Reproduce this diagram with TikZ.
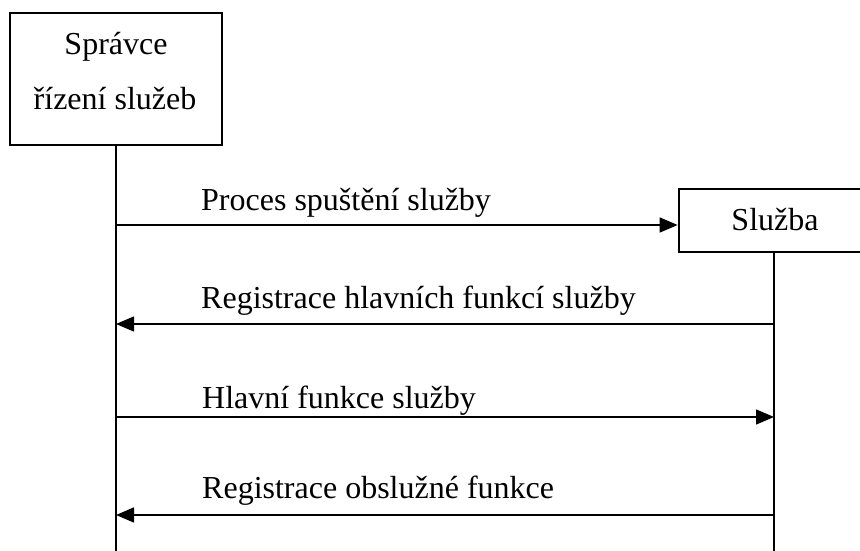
\documentclass[tikz,border=0pt]{standalone}
\usepackage{fontspec}
\setmainfont{Liberation Serif}
\usetikzlibrary{arrows.meta}
\begin{document}
\begin{tikzpicture}[x=1pt,y=-1pt,
  actor/.style={draw,line width=2.6pt,rectangle,inner sep=0pt,align=center,
    font=\fontsize{32}{55}\selectfont},
  txt/.style={inner sep=0pt,anchor=base,font=\fontsize{32}{38}\selectfont},
  life/.style={line width=1.4pt},
  msg/.style={line width=1.4pt,-{Triangle[length=18pt,width=15pt]}},
  lbl/.style={anchor=base west,inner sep=0pt,font=\fontsize{32}{38}\selectfont}]
\useasboundingbox (0,0) rectangle (860,551);
\clip (0,0) rectangle (860,551);
\fill[white] (0,0) rectangle (860,551);

% participants
\node[actor,minimum width=212pt,minimum height=132pt] (scm) at (116,79) {};
\node[txt] (scmA) at (116,55) {Správce};
\node[txt] (scmB) at (115,110) {řízení služeb};
\node[actor,minimum width=190pt,minimum height=63pt] (svc) at (774,220.5) {};
\node[txt] (svcT) at (775,230) {Služba};

% lifeline ends
\coordinate (scmEnd) at (scm.south |- 0,551);
\coordinate (svcEnd) at (svc.south |- 0,551);
\draw[life] (scm.south) -- (scmEnd);
\draw[life] (svc.south) -- (svcEnd);

% message anchors on the lifelines
\coordinate (a1) at (scm.south |- 0,225);
\coordinate (b1) at (svc.west |- 0,225);
\coordinate (a2) at (svc.south |- 0,324);
\coordinate (b2) at (scm.south |- 0,324);
\coordinate (a3) at (scm.south |- 0,417);
\coordinate (b3) at (svc.south |- 0,417);
\coordinate (a4) at (svc.south |- 0,515);
\coordinate (b4) at (scm.south |- 0,515);

\draw[msg] (a1) -- (b1);
\draw[msg] (a2) -- (b2);
\draw[msg] (a3) -- (b3);
\draw[msg] (a4) -- (b4);

% message labels
\node[lbl] (l1) at (201,210) {Proces spuštění služby};
\node[lbl] (l2) at (201,308) {Registrace hlavních funkcí služby};
\node[lbl] (l3) at (202,408) {Hlavní funkce služby};
\node[lbl] (l4) at (202,498) {Registrace obslužné funkce};
\end{tikzpicture}
\end{document}
